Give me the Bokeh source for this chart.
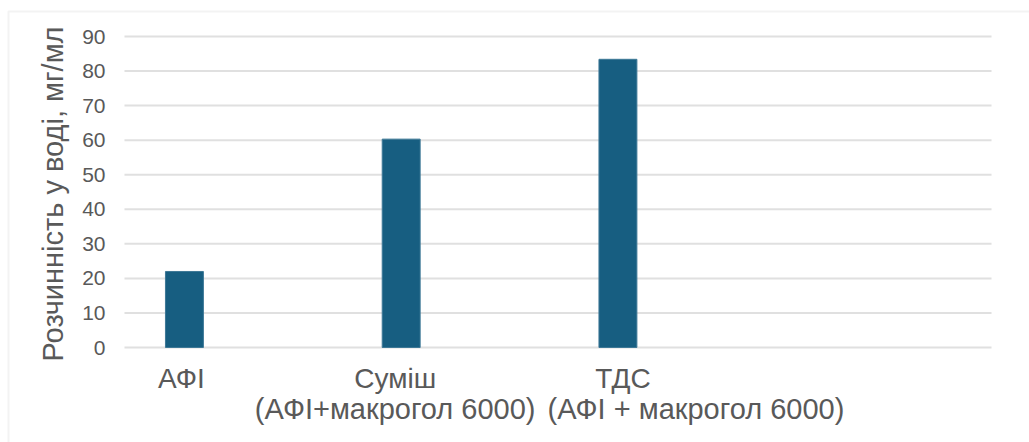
import math
from bokeh.plotting import figure
from bokeh.models import Range1d, BoxAnnotation
from bokeh.core.properties import value
from bokeh.embed import file_html
from bokeh.resources import INLINE

# Solubility in water, mg/ml
labels_line1 = ["АФІ", "Суміш", "ТДС"]
labels_line2 = ["", "(АФІ+макрогол 6000)", "(АФІ + макрогол 6000)"]
solubility = [22.0, 60.3, 83.4]
y_ticks = [0, 10, 20, 30, 40, 50, 60, 70, 80, 90]
y_title = "Розчинність у воді, мг/мл"

# page layout (pixels)
W, H = 1029, 442
PLOT_LEFT, PLOT_RIGHT = 124, 991
PLOT_TOP, PLOT_BOTTOM = 36, 347
N_SLOTS = 4            # category slots on the x axis (last one is empty)
BAR_SHIFT = -0.2235    # bar offset from the slot centre
BAR_WIDTH = 0.175
Y_MAX = 90

FONT = "Liberation Sans"
TEXT_COLOR = "#595959"
BAR_COLOR = "#175E81"
GRID_COLOR = "#e0e0e0"
BORDER_COLOR = "#d6d6d6"

# the frame fills the whole page; ranges are set so that the plotting area
# (0..N_SLOTS, 0..Y_MAX) lands on the pixel box above
px_per_slot = (PLOT_RIGHT - PLOT_LEFT) / N_SLOTS
px_per_unit = (PLOT_BOTTOM - PLOT_TOP) / Y_MAX
x_range = Range1d(-PLOT_LEFT / px_per_slot, N_SLOTS + (W - PLOT_RIGHT) / px_per_slot)
y_range = Range1d(-(H - PLOT_BOTTOM) / px_per_unit, Y_MAX + PLOT_TOP / px_per_unit)

p = figure(width=W, height=H, output_backend="svg", toolbar_location=None,
           x_range=x_range, y_range=y_range,
           min_border=0, min_border_left=0, min_border_right=0,
           min_border_top=0, min_border_bottom=0)
p.outline_line_color = None
p.background_fill_color = "white"
p.border_fill_color = "white"
p.xaxis.visible = False
p.yaxis.visible = False
p.xgrid.visible = False
p.ygrid.visible = False

# horizontal gridlines
p.segment(x0=[0] * len(y_ticks), x1=[N_SLOTS] * len(y_ticks), y0=y_ticks, y1=y_ticks,
          line_color=GRID_COLOR, line_width=2)

# bars
bar_x = [i + 0.5 + BAR_SHIFT for i in range(len(solubility))]
p.vbar(x=bar_x, top=solubility, width=BAR_WIDTH, bottom=0,
       fill_color=BAR_COLOR, line_color="#3d7896", line_width=1)

# y tick labels
p.text(x=[0] * len(y_ticks), y=y_ticks, text=[str(t) for t in y_ticks],
       x_offset=-19, text_align="right", text_baseline="middle",
       text_font=value(FONT), text_font_size="21px", text_color=TEXT_COLOR)

# y axis title
p.text(x=[0], y=[Y_MAX / 2], text=[y_title], angle=math.pi / 2,
       x_offset=-72, y_offset=2, text_align="center", text_baseline="alphabetic",
       text_font=value(FONT), text_font_size="29px", text_color=TEXT_COLOR)

# two-line category captions under the bars
line1_dx = [-3, -6, 5]
line2_dx = [0, -6, 78]
p.text(x=bar_x, y=[0] * len(bar_x), text=labels_line1,
       x_offset=line1_dx, y_offset=31, text_align="center", text_baseline="alphabetic",
       text_font=value(FONT), text_font_size="28px", text_color=TEXT_COLOR)
p.text(x=bar_x, y=[0] * len(bar_x), text=labels_line2,
       x_offset=line2_dx, y_offset=61, text_align="center", text_baseline="alphabetic",
       text_font=value(FONT), text_font_size="29px", text_color=TEXT_COLOR)

# chart-area border (only its top and left edges fall on the page)
p.add_layout(BoxAnnotation(left=8, right=W + 20, top=11, bottom=H + 20,
                           left_units="canvas", right_units="canvas",
                           top_units="canvas", bottom_units="canvas",
                           fill_color=None, fill_alpha=0,
                           line_color=BORDER_COLOR, line_width=2))

open("out.html", "w").write(file_html(p, INLINE))
